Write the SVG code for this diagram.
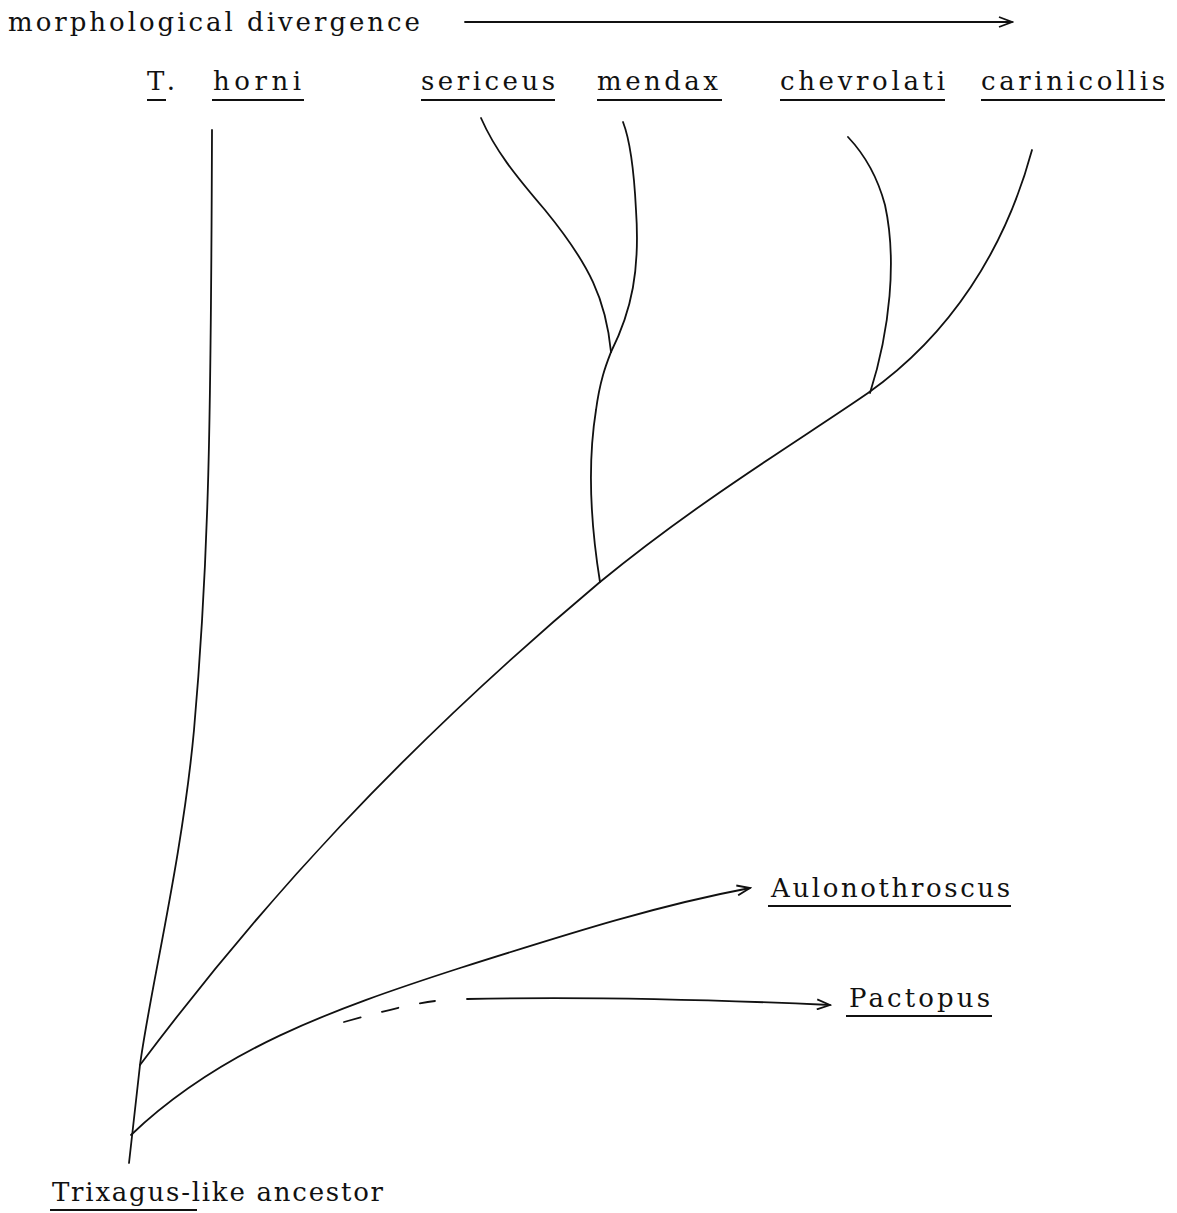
<svg xmlns="http://www.w3.org/2000/svg" width="1177" height="1213" viewBox="0 0 1177 1213">
<style>
text{font-family:"DejaVu Serif","Liberation Serif",serif;font-size:26px;fill:#111}
.l{fill:none;stroke:#111;stroke-width:1.8;stroke-linecap:round}
.u{stroke:#111;stroke-width:2}
</style>
<defs>
<marker id="ah" markerWidth="16" markerHeight="12" refX="14" refY="6" orient="auto" markerUnits="userSpaceOnUse">
<path d="M1,1 L14,6 L1,11" fill="none" stroke="#111" stroke-width="1.8"/>
</marker>
</defs>
<rect width="1177" height="1213" fill="#fff"/>
<g id="axis">
<text x="8" y="31" textLength="412" lengthAdjust="spacing">morphological divergence</text>
<line class="l" x1="465" y1="22" x2="1012" y2="22" marker-end="url(#ah)"/>
</g>
<g id="connectors">
<path class="l" d="M212,130 C211,420 209,560 194,730 C182,860 150,990 140,1065 L129,1163"/>
<path class="l" d="M140,1065 C260,905 400,750 600,582 C700,500 800,440 868,393 C950,335 1005,250 1032,150"/>
<path class="l" d="M600,582 C590,520 588,460 596,410 C600,380 606,365 611,352"/>
<path class="l" d="M611,352 C606,300 590,265 545,210 C515,175 495,150 481,118"/>
<path class="l" d="M611,352 C632,310 640,270 636,210 C634,170 630,140 623,122"/>
<path class="l" d="M870,393 C890,330 897,260 885,205 C877,175 865,155 848,137"/>
<path class="l" d="M131,1135 C220,1050 330,1010 460,968 C580,930 660,905 750,888" marker-end="url(#ah)"/>
<path class="l" d="M344,1022 C380,1012 410,1004 435,1001" stroke-dasharray="17,22"/>
<path class="l" d="M467,999 C600,996 720,1000 830,1005" marker-end="url(#ah)"/>
</g>
<g id="node-thorni">
<text x="147" y="90" textLength="28" lengthAdjust="spacing">T.</text>
<line class="u" x1="147" y1="100" x2="166" y2="100"/>
<text x="213" y="90" textLength="88" lengthAdjust="spacing">horni</text>
<line class="u" x1="212" y1="100" x2="304" y2="100"/>
</g>
<g id="node-sericeus">
<text x="421" y="90" textLength="134" lengthAdjust="spacing">sericeus</text>
<line class="u" x1="421" y1="100" x2="555" y2="100"/>
</g>
<g id="node-mendax">
<text x="597" y="90" textLength="121" lengthAdjust="spacing">mendax</text>
<line class="u" x1="597" y1="100" x2="722" y2="100"/>
</g>
<g id="node-chevrolati">
<text x="780" y="90" textLength="165" lengthAdjust="spacing">chevrolati</text>
<line class="u" x1="780" y1="100" x2="945" y2="100"/>
</g>
<g id="node-carinicollis">
<text x="981" y="90" textLength="184" lengthAdjust="spacing">carinicollis</text>
<line class="u" x1="981" y1="100" x2="1165" y2="100"/>
</g>
<g id="node-aulonothroscus">
<text x="771" y="897" textLength="239" lengthAdjust="spacing">Aulonothroscus</text>
<line class="u" x1="768" y1="906" x2="1011" y2="906"/>
</g>
<g id="node-pactopus">
<text x="849" y="1007" textLength="141" lengthAdjust="spacing">Pactopus</text>
<line class="u" x1="846" y1="1016" x2="992" y2="1016"/>
</g>
<g id="node-ancestor">
<text x="52" y="1201" textLength="331" lengthAdjust="spacing">Trixagus-like ancestor</text>
<line class="u" x1="50" y1="1210" x2="197" y2="1210"/>
</g>
</svg>
